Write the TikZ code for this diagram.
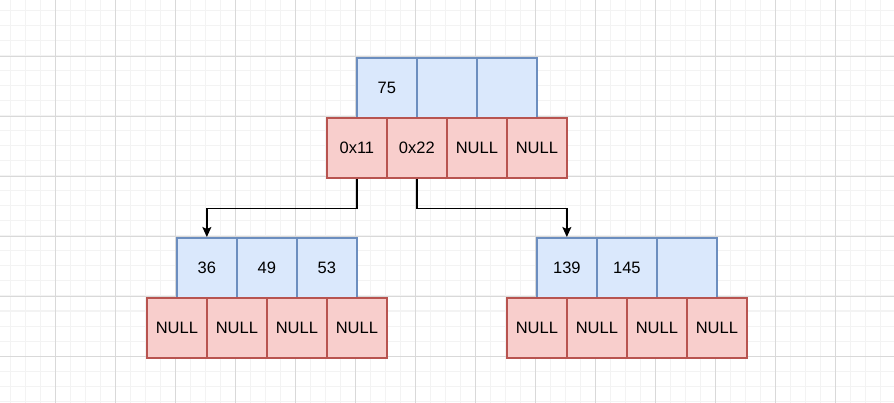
\documentclass[tikz,border=0pt]{standalone}
\usepackage{fontspec}
\setmainfont{Liberation Sans}
\usetikzlibrary{arrows.meta}
\definecolor{bfill}{HTML}{DAE8FC}
\definecolor{bline}{HTML}{6C8EBF}
\definecolor{rfill}{HTML}{F8CECC}
\definecolor{rline}{HTML}{B85450}
\definecolor{gmaj}{HTML}{D9D9D9}
\definecolor{gmin}{HTML}{F3F3F3}
\tikzset{
  cell/.style={minimum width=60pt,minimum height=60pt,inner sep=0pt,line width=1.7pt,font=\fontsize{16.5}{19}\selectfont,anchor=north west},
  key/.style={cell,fill=bfill,draw=bline},
  ptr/.style={cell,fill=rfill,draw=rline},
  link/.style={line width=1.5pt,-{Triangle[length=10pt,width=9pt,inset=2pt]}}
}
\begin{document}
\begin{tikzpicture}[x=1pt,y=-1pt]
\useasboundingbox (0,0) rectangle (894,403);
\fill[white] (0,0) rectangle (894,403);
\foreach \x in {10,25,...,894} \draw[gmin,line width=1pt] (\x,0) -- (\x,403);
\foreach \y in {11,26,...,403} \draw[gmin,line width=1pt] (0,\y) -- (894,\y);
\foreach \x in {55.5,115.5,...,894} \draw[gmaj,line width=0.8pt] (\x,0) -- (\x,403);
\foreach \y in {56.5,116.5,...,403} \draw[gmaj,line width=0.8pt] (0,\y) -- (894,\y);
% root
\node[key] (r1) at (356,57) {75};
\node[key] (r2) at (416,57) {};
\node[key] (r3) at (476,57) {};
\node[ptr] (rp1) at (326,117) {0x11};
\node[ptr] (rp2) at (386,117) {0x22};
\node[ptr] (rp3) at (446,117) {NULL};
\node[ptr] (rp4) at (506,117) {NULL};
% left child
\node[key] (a1) at (176,237) {36};
\node[key] (a2) at (236,237) {49};
\node[key] (a3) at (296,237) {53};
\node[ptr] (ap1) at (146,297) {NULL};
\node[ptr] (ap2) at (206,297) {NULL};
\node[ptr] (ap3) at (266,297) {NULL};
\node[ptr] (ap4) at (326,297) {NULL};
% right child
\node[key] (b1) at (536,237) {139};
\node[key] (b2) at (596,237) {145};
\node[key] (b3) at (656,237) {};
\node[ptr] (bp1) at (506,297) {NULL};
\node[ptr] (bp2) at (566,297) {NULL};
\node[ptr] (bp3) at (626,297) {NULL};
\node[ptr] (bp4) at (686,297) {NULL};
% links
\draw[link] (rp1.south) -- ++(0,30) -| (a1.north);
\draw[link] (rp2.south) -- ++(0,30) -| (b1.north);
\end{tikzpicture}
\end{document}
